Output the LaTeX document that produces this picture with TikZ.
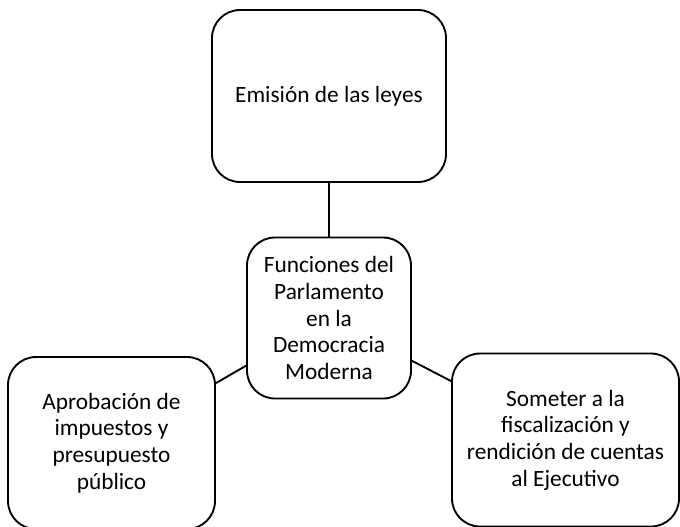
\documentclass[tikz,border=0pt]{standalone}
\usepackage{fontspec}
\setmainfont{Carlito}
\tikzset{
	caja/.style={draw, line width=1.4pt, rounded corners=21pt, align=center, inner sep=0pt,
		font=\fontsize{17.5}{20}\selectfont},
	enlace/.style={line width=1.4pt}
}
\begin{document}
\begin{tikzpicture}[x=0.75pt, y=-0.75pt]
					\useasboundingbox (0, 0) rectangle (680, 526);
					\node[caja, minimum width=175.5pt, minimum height=129pt] (leyes) at (329, 96) {Emisión de las leyes};
					\node[caja, minimum width=123pt, minimum height=120.75pt] (funciones) at (329, 318) {Funciones del\\ Parlamento\\ en la\\ Democracia\\ Moderna};
					\node[caja, minimum width=155.25pt, minimum height=129pt] (impuestos) at (111.5, 443) {Aprobación de\\ impuestos y\\ presupuesto\\ público};
					\node[caja, minimum width=170.25pt, minimum height=129.75pt] (control) at (565.5, 440) {Someter a la\\ fiscalización y\\ rendición de cuentas\\ al Ejecutivo};
					\draw[enlace] (leyes) -- (funciones);
					\draw[enlace] (funciones) -- (impuestos);
					\draw[enlace] (funciones) -- (control);
				\end{tikzpicture}
\end{document}
